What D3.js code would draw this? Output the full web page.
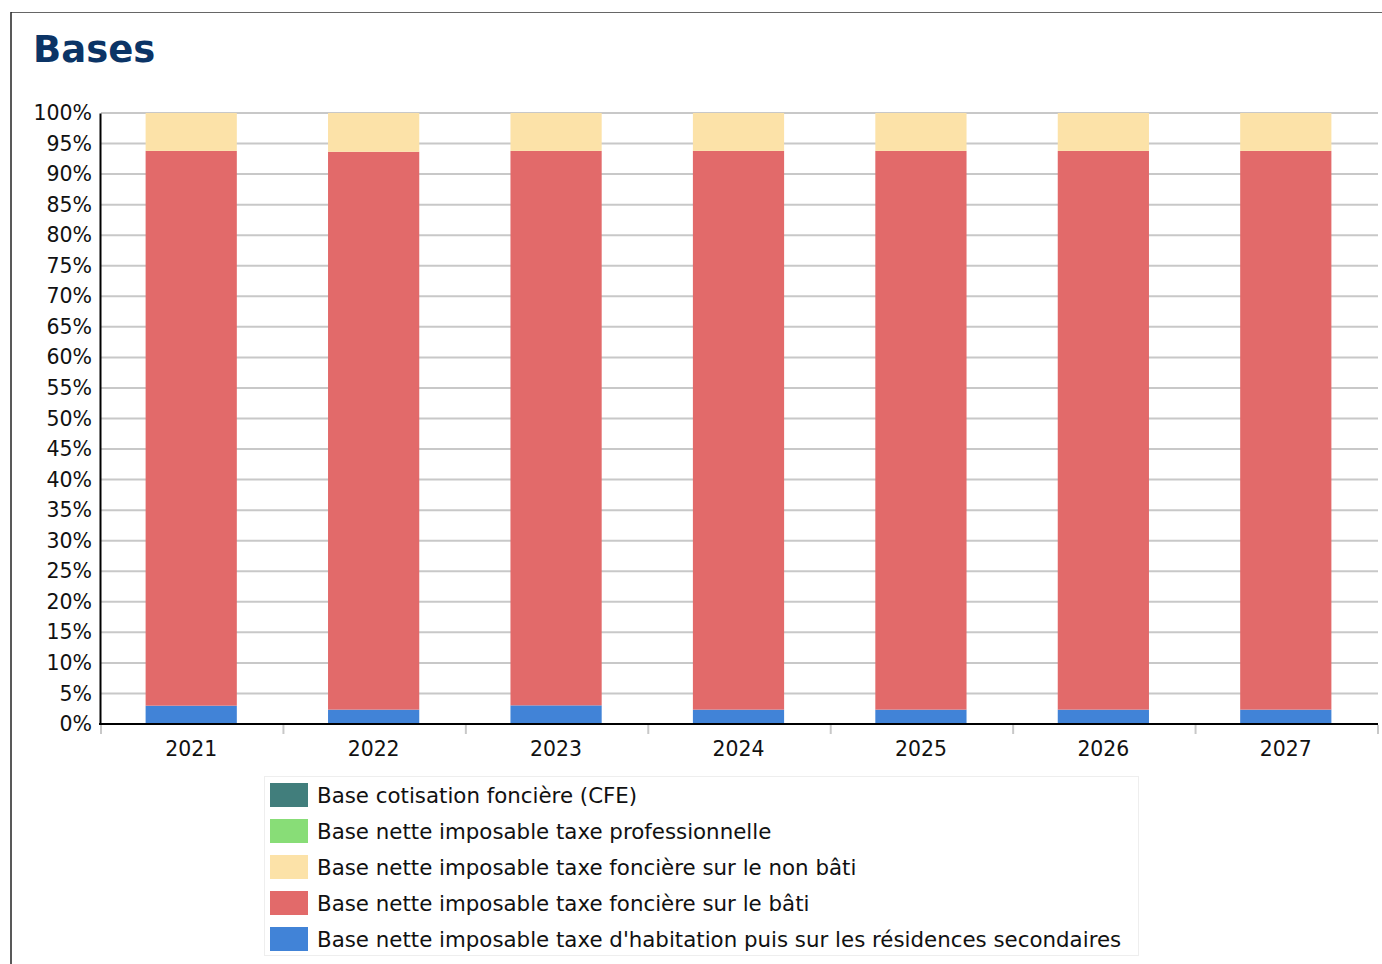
<!DOCTYPE html>
<html>
<head>
<meta charset="utf-8">
<script src="https://cdn.jsdelivr.net/npm/d3@7"></script>
<style>
  html, body { margin: 0; padding: 0; background: #fff; }
  svg { display: block; font-family: "DejaVu Sans", sans-serif; }
</style>
</head>
<body>
<svg id="chart" width="1382" height="964"></svg>
<script>
const years = ["2021", "2022", "2023", "2024", "2025", "2026", "2027"];
const seriesNames = [
  "Base nette imposable taxe d'habitation puis sur les résidences secondaires",
  "Base nette imposable taxe foncière sur le bâti",
  "Base nette imposable taxe foncière sur le non bâti",
  "Base nette imposable taxe professionnelle",
  "Base cotisation foncière (CFE)"
];
const seriesColors = ["#4183d7", "#e26a6a", "#fce2a8", "#88dd77", "#417e7c"];
const habitation = [3.0, 2.35, 3.05, 2.35, 2.35, 2.35, 2.35];
const bati = [90.8, 91.3, 90.75, 91.45, 91.45, 91.45, 91.45];
const nonBati = [6.2, 6.35, 6.2, 6.2, 6.2, 6.2, 6.2];
const professionnelle = [0, 0, 0, 0, 0, 0, 0];
const cfe = [0, 0, 0, 0, 0, 0, 0];
const yTicks = d3.range(0, 101, 5);
const title = "Bases";

const seriesValues = [habitation, bati, nonBati, professionnelle, cfe];
const table = years.map((y, i) => {
  const row = { year: y };
  seriesNames.forEach((n, k) => row[n] = seriesValues[k][i]);
  return row;
});
const stacked = d3.stack().keys(seriesNames)(table);

const svg = d3.select("#chart");
const m = { left: 101, right: 1378, top: 113, bottom: 724 };

// frame
svg.append("line").attr("x1", 11).attr("x2", 1382).attr("y1", 12.5).attr("y2", 12.5)
  .attr("stroke", "#666").attr("stroke-width", 1.2);
svg.append("line").attr("x1", 11).attr("x2", 11).attr("y1", 12).attr("y2", 964)
  .attr("stroke", "#222").attr("stroke-width", 1.5);

svg.append("text").attr("x", 33).attr("y", 62).text(title)
  .attr("font-size", 37).attr("font-weight", "bold").attr("fill", "#0b3466");

const x = d3.scaleBand().domain(years).range([m.left, m.right]).paddingInner(0.5).paddingOuter(0.25);
const xb = d3.scaleBand().domain(years).range([m.left, m.right]);
const y = d3.scaleLinear().domain([0, 100]).range([m.bottom, m.top]);

// grid
svg.append("g").selectAll("line").data(yTicks.filter(t => t > 0)).join("line")
  .attr("x1", m.left).attr("x2", m.right)
  .attr("y1", d => y(d)).attr("y2", d => y(d))
  .attr("stroke", "#c8c8c8").attr("stroke-width", 2);

// bars
svg.append("g").selectAll("g").data(stacked).join("g")
  .attr("fill", (d, i) => seriesColors[i])
  .selectAll("rect").data(d => d).join("rect")
  .attr("x", d => x(d.data.year) - 1)
  .attr("width", x.bandwidth())
  .attr("y", d => y(d[1]))
  .attr("height", d => Math.max(0, y(d[0]) - y(d[1])));

// y axis
const yAxis = svg.append("g").attr("transform", `translate(${m.left - 1},0)`)
  .call(d3.axisLeft(y).tickValues(yTicks).tickFormat(d => d + "%").tickSize(0).tickPadding(8));
yAxis.select(".domain").attr("stroke", "#000").attr("stroke-width", 2);
yAxis.selectAll("text").attr("font-size", 20.5).attr("fill", "#111").attr("font-family", "DejaVu Sans");

// x axis
const xAxis = svg.append("g").attr("transform", `translate(0,${m.bottom})`);
xAxis.append("line").attr("x1", m.left - 2).attr("x2", m.right).attr("y1", 0).attr("y2", 0)
  .attr("stroke", "#000").attr("stroke-width", 2);
const bounds = years.map(yr => xb(yr)).concat([m.right]);
xAxis.selectAll("line.tk").data(bounds).join("line").attr("class", "tk")
  .attr("x1", d => d).attr("x2", d => d).attr("y1", 1).attr("y2", 10)
  .attr("stroke", "#c8c8c8").attr("stroke-width", 2);
xAxis.selectAll("text").data(years).join("text")
  .attr("x", d => x(d) + x.bandwidth() / 2 - 1).attr("y", 31.5)
  .attr("text-anchor", "middle").attr("font-size", 20.4).attr("fill", "#111")
  .text(d => d);

// legend
const lg = svg.append("g");
lg.append("rect").attr("x", 264.5).attr("y", 776.5).attr("width", 874).attr("height", 179)
  .attr("fill", "#fff").attr("stroke", "#eeeeee").attr("stroke-width", 1);
const legendOrder = [4, 3, 2, 1, 0];
legendOrder.forEach((k, i) => {
  const cy = 795 + i * 36;
  lg.append("rect").attr("x", 270).attr("y", cy - 12).attr("width", 38).attr("height", 24)
    .attr("fill", seriesColors[k]);
  lg.append("text").attr("x", 317).attr("y", cy + 8).attr("font-size", 21.35).attr("fill", "#111")
    .text(seriesNames[k]);
});
</script>
</body>
</html>
